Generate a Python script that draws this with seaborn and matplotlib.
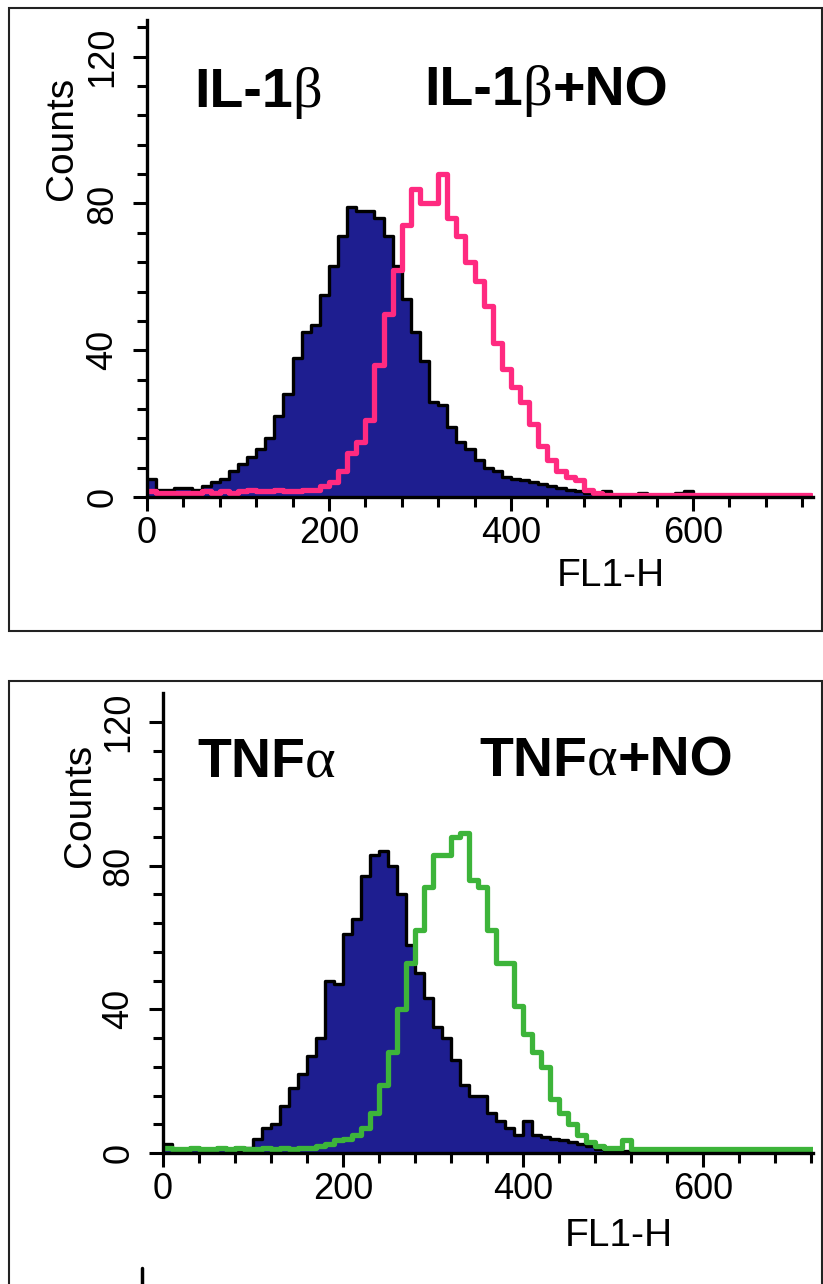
import numpy as np
import pandas as pd
import matplotlib
matplotlib.use("Agg")
import matplotlib.pyplot as plt
import seaborn as sns
from matplotlib.patches import Rectangle
from matplotlib.lines import Line2D

# FL1-H channel bins (width 10)
edges = list(range(0, 740, 10))
centers = [e + 5 for e in edges[:-1]]

# counts, one value per bin
il1b = [5, 2, 2, 2.5, 2.5, 2, 3, 4, 5, 7,
        9, 11, 13, 16, 22, 28, 38, 45, 47, 55,
        63, 71, 79, 78, 78, 76, 71, 63, 54, 45,
        37, 26, 25, 19, 15, 13, 10, 8, 7, 5.5,
        5, 4.5, 4, 3.5, 3, 2.5, 2, 1.5, 1, 0.5,
        1.5, 0.5, 0.5, 0.3, 1, 0.3, 0.3, 0.5, 1, 1.5,
        0.3, 0.3, 0.5] + [0.2] * 10
il1b_no = [1.5, 1, 1, 1, 1, 1, 1.5, 1, 1.5, 1,
           1.5, 2, 1.5, 1.5, 2, 1.5, 1.5, 2, 2, 3,
           4, 7, 12, 15, 21, 36, 50, 62, 74, 84,
           80, 80, 88, 76, 71, 64, 59, 52, 42, 35,
           30, 26, 20, 14, 10, 7, 5.5, 4.5, 2, 1] + [0.5] * 23
tnfa = [2.5, 1, 1, 1, 0.8, 1, 1, 1, 0.8, 1.5,
        4, 7, 8, 13, 18, 22, 27, 32, 48, 47,
        61, 65, 77, 83, 84, 80, 72, 58, 50, 43,
        35, 32, 26, 19, 16, 16, 11, 9, 7, 5,
        9, 5, 4.5, 4, 3.5, 3, 2.5, 2, 1, 0.8,
        0.5, 0.5] + [0.3] * 21
tnfa_no = [1.5, 1, 1, 1.5, 1, 1, 1.5, 1, 1.5, 1,
           1, 1.5, 1, 1.5, 1, 1.5, 1.5, 2, 2.5, 3.5,
           4, 5, 7, 11, 19, 28, 40, 53, 62, 74,
           83, 83, 88, 89, 76, 74, 62, 53, 53, 41,
           33, 28, 24, 15, 11, 8, 5, 3, 2, 1.5,
           1.5, 3.5] + [1] * 21

x_major = [0, 200, 400, 600]
y_major = [0, 40, 80, 120]

navy = "#1e1e90"
pink = "#ff2a80"
green = "#3db43a"

sns.set_style("ticks")
plt.rcParams['font.family'] = ['Liberation Sans Narrow', 'Liberation Sans', 'DejaVu Sans']
plt.rcParams['text.color'] = 'black'
plt.rcParams['axes.labelcolor'] = 'black'
plt.rcParams['xtick.color'] = 'black'
plt.rcParams['ytick.color'] = 'black'

W, H = 823, 1284
fig = plt.figure(figsize=(W / 100, H / 100), dpi=100)

panels = [
    dict(rect=(147, 20, 813, 497), xmax=732, ymax=130, base=il1b, treat=il1b_no,
         col=pink, lab1=("IL-1", "β", ""), lab2=("IL-1", "β", "+NO"),
         pos1=(194, 107), pos2=(424, 105), fl=(611, 558), cnt=(80, 138)),
    dict(rect=(163, 693, 813, 1153), xmax=722, ymax=128, base=tnfa, treat=tnfa_no,
         col=green, lab1=("TNF", "α", ""), lab2=("TNF", "α", "+NO"),
         pos1=(197, 777), pos2=(479, 776), fl=(619, 1218), cnt=(98, 805)),
]

for p in panels:
    l, t, r, b = p["rect"]
    ax = fig.add_axes([l / W, 1 - b / H, (r - l) / W, (b - t) / H])
    df = pd.DataFrame({"fl": centers, "base": p["base"], "treat": p["treat"]})

    sns.histplot(data=df, x="fl", weights="base", bins=edges, element="step", fill=True,
                 color=navy, alpha=1, linewidth=0, ax=ax)
    sns.histplot(data=df, x="fl", weights="base", bins=edges, element="step", fill=False,
                 color="black", linewidth=2.4, ax=ax)
    sns.histplot(data=df, x="fl", weights="treat", bins=edges, element="step", fill=False,
                 color=p["col"], linewidth=3.8, ax=ax)

    ax.set_xlim(0, p["xmax"])
    ax.set_ylim(0, p["ymax"])
    sns.despine(ax=ax)
    for s in ["left", "bottom"]:
        ax.spines[s].set_linewidth(2.4)
        ax.spines[s].set_color("black")
        ax.spines[s].set_zorder(5)

    ax.set_xticks(x_major)
    ax.set_xticks(np.arange(40, p["xmax"], 40), minor=True)
    ax.set_yticks(y_major)
    ax.set_yticks(np.arange(8, p["ymax"], 8), minor=True)
    ax.tick_params(which="major", direction="out", length=10, width=2.2, color="black",
                   labelsize=26, labelcolor="black")
    ax.tick_params(which="minor", direction="out", length=7, width=2.2, color="black")
    ax.tick_params(axis="x", which="major", pad=4)
    ax.tick_params(axis="y", which="major", pad=9)
    for lab in ax.get_yticklabels():
        lab.set_rotation(90)
        lab.set_va("center")

    ax.set_xlabel("FL1-H", fontsize=28, color="black")
    ax.set_ylabel("Counts", fontsize=28, color="black")
    ax.xaxis.set_label_coords((p["fl"][0] - l) / (r - l), (b - p["fl"][1]) / (b - t))
    ax.yaxis.set_label_coords((p["cnt"][0] - l) / (r - l), (b - p["cnt"][1]) / (b - t))

    # big condition labels: bold sans text with a serif greek letter
    for (a, g, c), (px, py) in [(p["lab1"], p["pos1"]), (p["lab2"], p["pos2"])]:
        yb = (b - py) / (b - t)
        t1 = ax.text((px - l) / (r - l), yb, a, transform=ax.transAxes, fontsize=40,
                     fontweight="bold", family="Liberation Sans", va="baseline", color="black")
        t2 = ax.annotate(g, xy=(1, yb), xycoords=(t1, "axes fraction"), fontsize=42,
                         family="Liberation Serif", va="baseline", ha="left", color="black")
        if c:
            ax.annotate(c, xy=(1, yb), xycoords=(t2, "axes fraction"), fontsize=40,
                        fontweight="bold", family="Liberation Sans", va="baseline", ha="left",
                        color="black")

# panel frames
fig.add_artist(Rectangle((9 / W, 1 - 631 / H), 813 / W, 623 / H, transform=fig.transFigure,
                         fill=False, ec="#222222", lw=1.5))
fig.add_artist(Rectangle((9 / W, -0.01), 813 / W, 1 - 681 / H + 0.01, transform=fig.transFigure,
                         fill=False, ec="#222222", lw=1.5))
fig.add_artist(Line2D([142 / W, 142 / W], [0, 16 / H], transform=fig.transFigure,
                      color="black", lw=2.5))

fig.savefig("out.png", dpi=100)
